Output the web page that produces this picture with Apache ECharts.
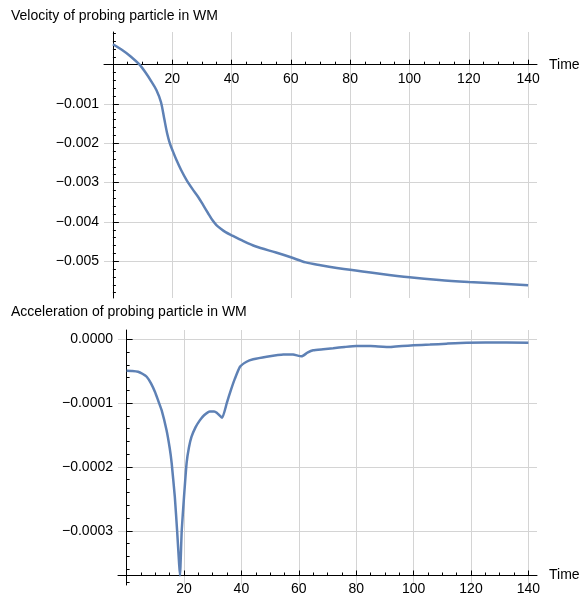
<!DOCTYPE html>
<html>
<head>
<meta charset="utf-8">
<script src="https://cdn.jsdelivr.net/npm/echarts@6/dist/echarts.min.js"></script>
<style>
  html, body { margin: 0; padding: 0; background: #fff; }
  #chart { width: 582px; height: 601px; }
</style>
</head>
<body>
<div id="chart"></div>
<script>
// velocity curve
var velTime = [0, 3, 6, 9, 11, 13, 14.7, 16.2, 17.3, 18.3, 19.2, 20.2, 21.4, 23, 24.8, 26.8, 28.7, 30.5, 32.1, 33.6, 34.9, 36.5, 38, 40, 44, 48, 55, 60, 65, 70, 80, 90, 100, 110, 120, 130, 140];
var velValue = [0.00052, 0.00038, 0.00021, 0.0, -0.0002, -0.00043, -0.00065, -0.00095, -0.00137, -0.00175, -0.0020, -0.0022, -0.00242, -0.00268, -0.00293, -0.00316, -0.00336, -0.00358, -0.00378, -0.00396, -0.00408, -0.00418, -0.00426, -0.00434, -0.00449, -0.00462, -0.00478, -0.0049, -0.00503, -0.0051, -0.00522, -0.00532, -0.00541, -0.00548, -0.00553, -0.00557, -0.00561];

// acceleration curve
var accTime = [0, 2, 4, 5.5, 7, 8.5, 9.9, 11, 12.2, 13.9, 15, 15.7, 16.8, 17.6, 18.3, 18.6, 19.2, 20, 20.9, 21.7, 22.6, 24, 25.5, 27, 29, 30.5, 31.4, 33.3, 34.9, 36.3, 37.7, 39.5, 41.8, 44.1, 48.8, 54.6, 58, 61, 63, 65, 68.5, 72, 76, 80, 85, 92, 96, 100, 105.7, 111.5, 118.5, 125, 140];
var accValue = [-0.0000492, -0.0000495, -0.0000508, -0.000054, -0.0000586, -0.000069, -0.0000826, -0.000096, -0.000111, -0.000142, -0.00017, -0.000194, -0.000247, -0.0003, -0.000352, -0.00037, -0.0003, -0.000247, -0.000194, -0.00017, -0.000153, -0.000138, -0.000127, -0.000119, -0.000113, -0.000113, -0.000115, -0.000123, -0.0001, -0.00008, -0.0000620, -0.0000430, -0.0000351, -0.0000313, -0.0000272, -0.0000236, -0.0000238, -0.0000267, -0.000021, -0.0000172, -0.0000156, -0.000014, -0.000012, -0.0000104, -0.0000105, -0.000012, -0.0000105, -0.0000094, -0.0000083, -0.0000068, -0.0000052, -0.000005, -0.0000052];

// tick labels
var timeTicks = [20, 40, 60, 80, 100, 120, 140];
var velTicks = [-0.005, -0.004, -0.003, -0.002, -0.001];
var accTicks = [0, -0.0001, -0.0002, -0.0003];

// minor ticks
var timeMinor = [];
for (var i = 1; i <= 28; i++) timeMinor.push(i * 5);
var velMinor = [];
for (var i = -29; i <= 4; i++) velMinor.push(+(i * 0.0002).toFixed(4));
var accMinor = [];
for (var i = -19; i <= 0; i++) accMinor.push(+(i * 0.00002).toFixed(5));

var font = "'Liberation Sans', Arial, sans-serif";
var lineColor = '#5e81b5';
var gridColor = '#d4d4d4';

function minus(s) { return s.replace('-', '\u2212'); }

var chart = echarts.init(document.getElementById('chart'));

// x axes are placed with offset (axis line sits inside the grid)
function xMajor(grid, offset) {
  return {
    type: 'value', gridIndex: grid, min: -3, max: 143, position: 'bottom', offset: offset,
    name: 'Time', nameLocation: 'end', nameGap: 12,
    nameTextStyle: { color: '#000', fontSize: 14, fontFamily: font },
    axisLine: { show: true, onZero: false, lineStyle: { color: '#000', width: 1 } },
    axisTick: { show: true, inside: true, length: 5, customValues: timeTicks, lineStyle: { color: '#000' } },
    axisLabel: { customValues: timeTicks, color: '#000', fontSize: 14, fontFamily: font, margin: 7 },
    splitLine: { show: true, lineStyle: { color: gridColor, width: 1 } }
  };
}
function xMinor(grid, offset) {
  return {
    type: 'value', gridIndex: grid, min: -3, max: 143, position: 'bottom', offset: offset,
    axisLine: { show: false, onZero: false },
    axisTick: { show: true, inside: true, length: 3, customValues: timeMinor, lineStyle: { color: '#000' } },
    axisLabel: { show: false },
    splitLine: { show: false }
  };
}
function yMajor(grid, min, max, ticks, digits) {
  return {
    type: 'value', gridIndex: grid, min: min, max: max, position: 'left',
    axisLine: { show: true, onZero: true, onZeroAxisIndex: grid * 2, lineStyle: { color: '#000', width: 1 } },
    axisTick: { show: true, inside: true, length: 6, customValues: ticks, lineStyle: { color: '#000' } },
    axisLabel: {
      customValues: ticks, color: '#000', fontSize: 14, fontFamily: font, margin: 5,
      formatter: function (v) { return minus(v.toFixed(digits)); }
    },
    splitLine: { show: true, lineStyle: { color: gridColor, width: 1 } }
  };
}
function yMinor(grid, min, max, ticks) {
  return {
    type: 'value', gridIndex: grid, min: min, max: max, position: 'left',
    axisLine: { show: false, onZero: true, onZeroAxisIndex: grid * 2 },
    axisTick: { show: true, inside: true, length: 3, customValues: ticks, lineStyle: { color: '#000' } },
    axisLabel: { show: false },
    splitLine: { show: false }
  };
}

var option = {
  animation: false,
  backgroundColor: '#fff',
  title: [
    { text: 'Velocity of probing particle in WM', left: 6, top: 4,
      textStyle: { fontSize: 14, fontWeight: 'normal', color: '#000', fontFamily: font } },
    { text: 'Acceleration of probing particle in WM', left: 6, top: 300,
      textStyle: { fontSize: 14, fontWeight: 'normal', color: '#000', fontFamily: font } }
  ],
  grid: [
    { left: 104, right: 45, top: 32, height: 266 },
    { left: 118, right: 45, top: 330, height: 255 }
  ],
  xAxis: [
    xMajor(0, -233.3),
    xMinor(0, -233.3),
    xMajor(1, -9.5),
    xMinor(1, -9.5)
  ],
  yAxis: [
    yMajor(0, -0.005936, 0.000832, velTicks, 3),
    yMinor(0, -0.005936, 0.000832, velMinor),
    yMajor(1, -0.000385, 0.0000146, accTicks, 4),
    yMinor(1, -0.000385, 0.0000146, accMinor)
  ],
  series: [
    {
      type: 'line', xAxisIndex: 0, yAxisIndex: 0,
      data: velTime.map(function (t, i) { return [t, velValue[i]]; }),
      showSymbol: false, smooth: 0.3,
      lineStyle: { color: lineColor, width: 2.5 }
    },
    {
      type: 'line', xAxisIndex: 2, yAxisIndex: 2,
      data: accTime.map(function (t, i) { return [t, accValue[i]]; }),
      showSymbol: false, smooth: 0.15,
      lineStyle: { color: lineColor, width: 2.5 }
    }
  ]
};

chart.setOption(option);
</script>
</body>
</html>
